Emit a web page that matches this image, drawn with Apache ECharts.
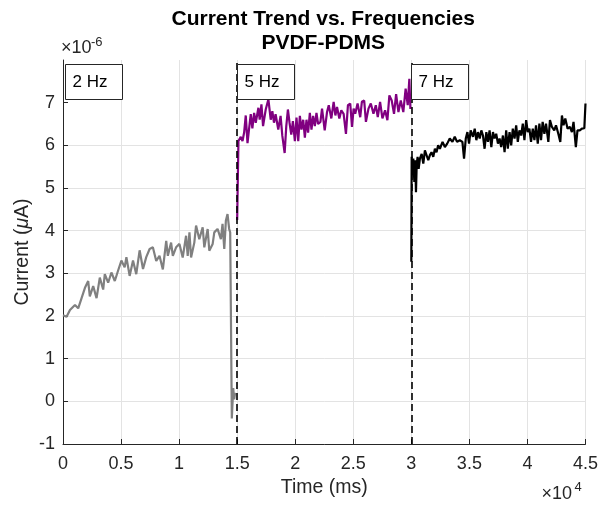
<!DOCTYPE html>
<html>
<head>
<meta charset="utf-8">
<script src="https://cdn.jsdelivr.net/npm/echarts@6/dist/echarts.min.js"></script>
<style>
  html, body { margin: 0; padding: 0; background: #ffffff; }
  #chart { width: 601px; height: 511px; }
</style>
</head>
<body>
<div id="chart"></div>
<script>
// Time stamps in ms, current in units of 1e-6 A
const time2Hz = [0, 310, 600, 1030, 1310, 1600, 1890, 2170, 2310, 2600, 2890, 3170, 3460, 3600, 3890, 4170, 4460, 4740,
  5030, 5310, 5460, 5740, 6030, 6310, 6600, 6890, 7170, 7460, 7740, 8030, 8310, 8600, 8890, 9030, 9310, 9460, 9740,
  10030, 10170, 10310, 10600, 10740, 10890, 11030, 11310, 11460, 11740, 12030, 12170, 12460, 12600, 12890, 13030,
  13310, 13600, 13740, 13890, 14030, 14170, 14310, 14400, 14540, 14660, 14740, 14830];
const current2Hz = [2.02, 1.98, 2.14, 2.26, 2.18, 2.42, 2.66, 2.82, 2.46, 2.70, 2.42, 2.90, 2.62, 2.98, 2.78, 3.02, 2.82, 3.06,
  3.30, 3.14, 3.38, 2.94, 3.30, 2.98, 3.54, 3.10, 3.38, 3.57, 3.61, 3.29, 3.41, 3.09, 3.76, 3.41, 3.72, 3.41, 3.61,
  3.69, 3.53, 3.37, 3.88, 3.41, 3.96, 3.37, 3.72, 4.12, 3.80, 4.08, 3.61, 4.04, 3.53, 3.69, 3.96,
  4.04, 3.80, 4.16, 3.57, 4.24, 4.39, 4.04, 3.96, -0.40, 0.31, 0.05, 0.20];

const time5Hz = [15000, 15110, 15310, 15460, 15600, 15740, 15890, 16030, 16170, 16310, 16460, 16600, 16830, 16940, 17090,
  17230, 17460, 17690, 17890, 18030, 18170, 18310, 18540, 18740, 18890, 19090, 19230, 19370, 19510, 19660, 19800,
  19970, 20110, 20260, 20400, 20540, 20690, 20830, 20970, 21110, 21260, 21400, 21540, 21690, 21830, 21970, 22170,
  22310, 22540, 22740, 22890, 23110, 23310, 23460, 23600, 23800, 23970, 24170, 24370, 24540, 24740, 24890, 25030,
  25170, 25370, 25600, 25740, 25940, 26090, 26310, 26510, 26740, 26940, 27110, 27310, 27510, 27740, 27940, 28110,
  28310, 28510, 28690, 28890, 29090, 29310, 29510, 29690, 29830, 29920];
const current5Hz = [4.25, 6.10, 6.20, 6.10, 6.30, 6.70, 6.05, 6.40, 6.73, 6.40, 6.76, 6.53, 6.88, 6.60, 6.96,
  6.45, 6.84, 7.08, 6.60, 6.80, 6.53, 6.73, 6.37, 6.69, 6.22, 5.82, 6.45, 6.84, 6.53, 6.25, 6.57,
  6.10, 6.65, 6.10, 6.69, 6.37, 6.60, 6.18, 6.60, 6.30, 6.76, 6.37, 6.69, 6.45, 6.76, 6.50, 6.55,
  6.86, 6.35, 6.78, 6.94, 6.63, 7.02, 6.70, 6.90, 6.63, 6.82, 6.74, 6.27, 6.94, 6.98, 6.43, 6.86,
  6.74, 6.98, 6.66, 7.02, 7.05, 6.55, 6.86, 6.98, 6.74, 6.94, 6.66, 7.02, 6.63, 6.82, 6.59, 7.17,
  7.05, 6.74, 7.20, 6.78, 7.05, 6.78, 7.33, 6.94, 7.56, 6.85];

const time7Hz = [30000, 30030, 30110, 30170, 30260, 30340, 30400, 30460, 30540, 30630, 30740, 30890, 31030, 31170, 31310,
  31460, 31600, 31740, 31890, 32030, 32170, 32310, 32460, 32690, 32890, 33090, 33310, 33540, 33740, 33940, 34170,
  34400, 34540, 34690, 34830, 34970, 35110, 35310, 35460, 35600, 35740, 35890, 36030, 36170, 36310, 36460, 36600,
  36740, 36890, 37030, 37170, 37310, 37460, 37600, 37740, 37890, 38030, 38170, 38310, 38460, 38600, 38740, 38890,
  39030, 39170, 39310, 39460, 39600, 39740, 39890, 40030, 40170, 40310, 40460, 40600, 40740, 40890, 41030, 41170,
  41310, 41460, 41600, 41800, 41940, 42110, 42310, 42460, 42660, 42830, 42970, 43110, 43260, 43460, 43660, 43830,
  43970, 44170, 44310, 44510, 44690, 44900, 45000];
const current7Hz = [3.27, 5.73, 5.30, 5.69, 5.14, 5.65, 4.90, 5.53, 5.73, 5.45, 5.69, 5.80, 5.57, 5.88, 5.92,
  5.65, 5.77, 5.84, 5.73, 5.92, 5.84, 6.00, 5.92, 6.08, 5.96, 6.04, 6.16, 6.08, 6.20, 6.08, 6.12,
  6.08, 5.69, 6.16, 6.31, 6.04, 6.35, 6.20, 6.39, 6.12, 6.31, 6.16, 6.35, 6.23, 5.92, 6.31, 6.08,
  6.35, 5.96, 6.31, 6.16, 6.27, 6.04, 6.16, 5.96, 6.23, 5.84, 6.35, 5.92, 6.31, 6.00, 6.39, 6.16,
  6.47, 6.08, 6.35, 6.23, 6.51, 6.12, 6.59, 6.31, 6.39, 6.08, 6.39, 6.12, 6.47, 6.04, 6.51, 6.12,
  6.55, 6.27, 6.51, 6.08, 6.59, 6.43, 6.35, 6.47, 6.27, 6.08, 6.70, 6.47, 6.63, 6.39, 6.43, 6.31,
  6.55, 5.96, 6.35, 6.35, 6.39, 6.40, 6.98];

// Frequency change points (ms) and their labels
const switchTimes = [15000, 30000];
const freqLabels = ['2 Hz', '5 Hz', '7 Hz'];
const freqStarts = [0, 15000, 30000];

// Axis ticks
const xTicks = [0, 5000, 10000, 15000, 20000, 25000, 30000, 35000, 40000, 45000];
const yTicks = [-1, 0, 1, 2, 3, 4, 5, 6, 7];

const FONT = '"Liberation Sans", Arial, Helvetica, sans-serif';
const INK = '#262626';

const zip = (t, v) => t.map((x, i) => [x, v[i]]);

const chart = echarts.init(document.getElementById('chart'), null, { renderer: 'canvas' });

const option = {
  animation: false,
  backgroundColor: '#ffffff',
  textStyle: { fontFamily: FONT },
  grid: { left: 63, right: 13, top: 60, bottom: 67, containLabel: false },
  xAxis: {
    type: 'value', min: 0, max: 45000, interval: 5000,
    name: 'Time (ms)', nameLocation: 'middle', nameGap: 33,
    nameTextStyle: { fontFamily: FONT, fontSize: 19.5, color: INK },
    axisLine: { show: true, onZero: false, lineStyle: { color: INK, width: 1 } },
    axisTick: { show: true, inside: true, length: 5, lineStyle: { color: INK }, customValues: xTicks },
    axisLabel: { fontFamily: FONT, fontSize: 18, color: INK, margin: 11,
      customValues: xTicks, formatter: v => String(v / 10000) },
    splitLine: { show: true, lineStyle: { color: '#e3e3e3', width: 1 } }
  },
  yAxis: {
    type: 'value', min: -1, max: 8, interval: 1,
    name: '{n|Current (}{m|μ}{n|A)}', nameLocation: 'middle', nameGap: 30, nameRotate: 90,
    nameMoveOverlap: false,
    nameTextStyle: {
      rich: {
        n: { fontFamily: FONT, fontSize: 19.5, color: INK },
        m: { fontFamily: FONT, fontSize: 19.5, color: INK, fontStyle: 'italic' }
      }
    },
    axisLine: { show: true, onZero: false, lineStyle: { color: INK, width: 1 } },
    axisTick: { show: true, inside: true, length: 5, lineStyle: { color: INK }, customValues: yTicks },
    axisLabel: { fontFamily: FONT, fontSize: 18, color: INK, margin: 8, customValues: yTicks },
    splitLine: { show: true, showMaxLine: false, lineStyle: { color: '#e3e3e3', width: 1 } }
  },
  series: [
    { name: '2 Hz', type: 'line', data: zip(time2Hz, current2Hz), showSymbol: false,
      lineStyle: { color: '#808080', width: 2.2 }, itemStyle: { color: '#808080' } },
    { name: '5 Hz', type: 'line', data: zip(time5Hz, current5Hz), showSymbol: false,
      lineStyle: { color: '#800080', width: 2.2 }, itemStyle: { color: '#800080' } },
    { name: '7 Hz', type: 'line', data: zip(time7Hz, current7Hz), showSymbol: false,
      lineStyle: { color: '#000000', width: 2.2 }, itemStyle: { color: '#000000' },
      markLine: {
        silent: true, symbol: ['none', 'none'], label: { show: false },
        lineStyle: { color: '#000', type: [7, 4], width: 1.6 },
        data: switchTimes.map(t => ({ xAxis: t }))
      } }
  ]
};

chart.setOption(option);

// Title, exponent labels and frequency text boxes, anchored to the axes
function drawOverlays() {
  const origin = chart.convertToPixel({ gridIndex: 0 }, [0, -1]);
  const top = chart.convertToPixel({ gridIndex: 0 }, [0, 8]);
  const right = chart.convertToPixel({ gridIndex: 0 }, [45000, -1]);
  const midX = (origin[0] + right[0]) / 2 - 1;
  const els = [];

  els.push({ type: 'text', x: midX, y: 19,
    style: { text: 'Current Trend vs. Frequencies', font: 'bold 21px ' + FONT, fill: '#000',
      align: 'center', verticalAlign: 'middle' } });
  els.push({ type: 'text', x: midX, y: 43,
    style: { text: 'PVDF-PDMS', font: 'bold 21px ' + FONT, fill: '#000',
      align: 'center', verticalAlign: 'middle' } });

  els.push({ type: 'text', left: origin[0] - 2, top: top[1] - 21,
    style: { text: '×10', font: '18px ' + FONT, fill: INK } });
  els.push({ type: 'text', left: origin[0] + 28, top: top[1] - 24,
    style: { text: '-6', font: '13px ' + FONT, fill: INK } });

  els.push({ type: 'text', left: right[0] - 44, top: origin[1] + 41,
    style: { text: '×10', font: '18px ' + FONT, fill: INK } });
  els.push({ type: 'text', left: right[0] - 11, top: origin[1] + 37,
    style: { text: '4', font: '13px ' + FONT, fill: INK } });

  freqStarts.forEach((t, i) => {
    const p = chart.convertToPixel({ gridIndex: 0 }, [t, 8]);
    const x0 = Math.round(p[0]) + (i === 0 ? 2 : 0) + 0.5;
    const y0 = Math.round(p[1]) + 4.5;
    els.push({ type: 'rect', shape: { x: x0, y: y0, width: 57, height: 35 },
      style: { fill: '#ffffff', stroke: INK, lineWidth: 1 }, z: 100 });
    els.push({ type: 'text', x: x0 + 7, y: y0 + 17.5, z: 101,
      style: { text: freqLabels[i], font: '17px ' + FONT, fill: '#000', verticalAlign: 'middle' } });
  });

  chart.setOption({ graphic: { elements: els } });
}
drawOverlays();
</script>
</body>
</html>
